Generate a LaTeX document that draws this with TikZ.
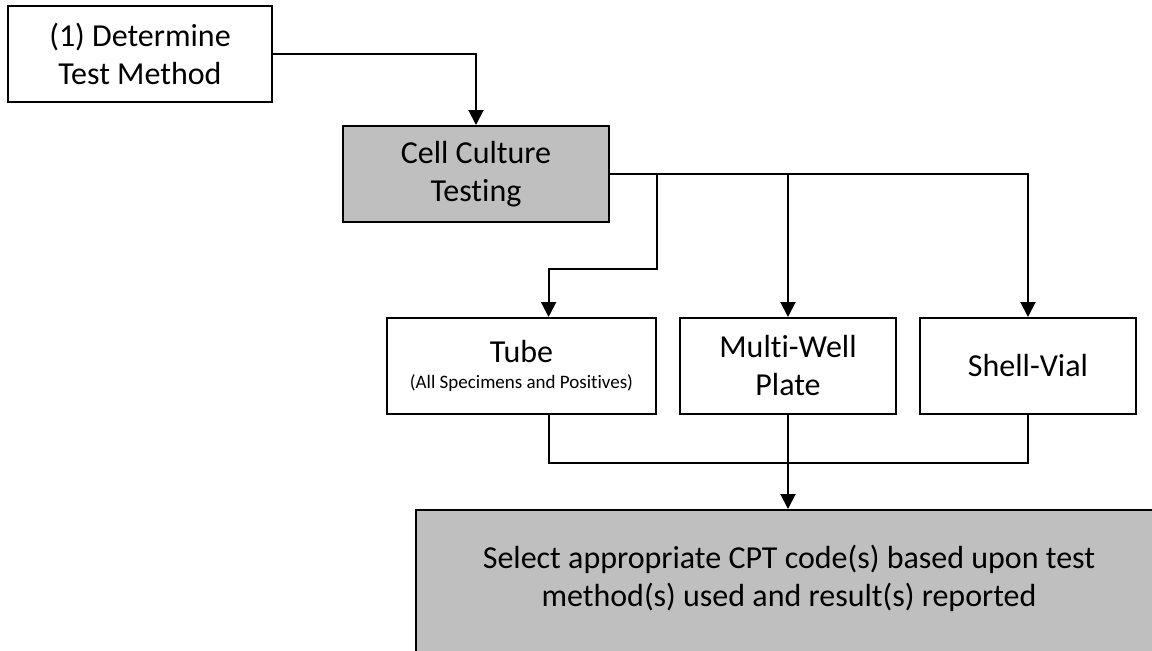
\documentclass[tikz,border=0pt]{standalone}
\usepackage{fontspec}
\setmainfont{Carlito}[Ligatures=NoCommon]
\usetikzlibrary{arrows.meta,calc}
\definecolor{boxgray}{RGB}{191,191,191}
\begin{document}
\begin{tikzpicture}[x=1pt,y=-1pt,
  font=\fontsize{32}{38}\selectfont,
  box/.style={draw=black,line width=2pt,fill=white,align=center,inner sep=0pt},
  shaded/.style={box,fill=boxgray},
  link/.style={line width=2pt},
  arr/.style={link,-{Triangle[width=15pt,length=15pt]}}]
\useasboundingbox (0,0) rectangle (1152,651);
\clip (0,0) rectangle (1152,651);
\fill[white] (0,0) rectangle (1152,651);

% boxes
\node[box,minimum width=264pt,minimum height=96pt] (det) at (140,54) {(1) Determine\\Test Method};
\node[shaded,minimum width=266pt,minimum height=96pt] (cct) at (476,174) {Cell Culture\\Testing};
\node[box,minimum width=269pt,minimum height=96pt] (tube) at (521.5,366)
  {Tube\\[-12pt]{\fontsize{19}{22}\selectfont(All Specimens and Positives)}};
\node[box,minimum width=216pt,minimum height=96pt] (multi) at (788,366) {Multi-Well\\Plate};
\node[box,minimum width=216pt,minimum height=96pt] (shell) at (1028,366) {Shell-Vial};
\node[shaded,minimum width=746pt,minimum height=160pt] (sel) at (789,590) {};
\node[align=center,inner sep=0pt] (seltext) at ($(sel.center)+(0,-12)$)
  {Select appropriate CPT code(s) based upon test\\method(s) used and result(s) reported};

% connection points
\coordinate (tin) at ($(tube.north west)!0.6!(tube.north east)$);
\coordinate (mj) at ($(multi.south)+(0,48)$);

% connectors
\draw[arr] (det.east) -| (cct.north);
\draw[arr] (cct.east) -| (shell.north);
\draw[arr] (cct.east -| tube.east) |- ($(tin)+(0,-48)$) -- (tin);
\draw[arr] (cct.east -| multi.north) -- (multi.north);
\draw[link] (tube.south -| tin) |- (mj) -| (shell.south);
\draw[arr] (multi.south) -- (sel.north -| multi.south);
\end{tikzpicture}
\end{document}
